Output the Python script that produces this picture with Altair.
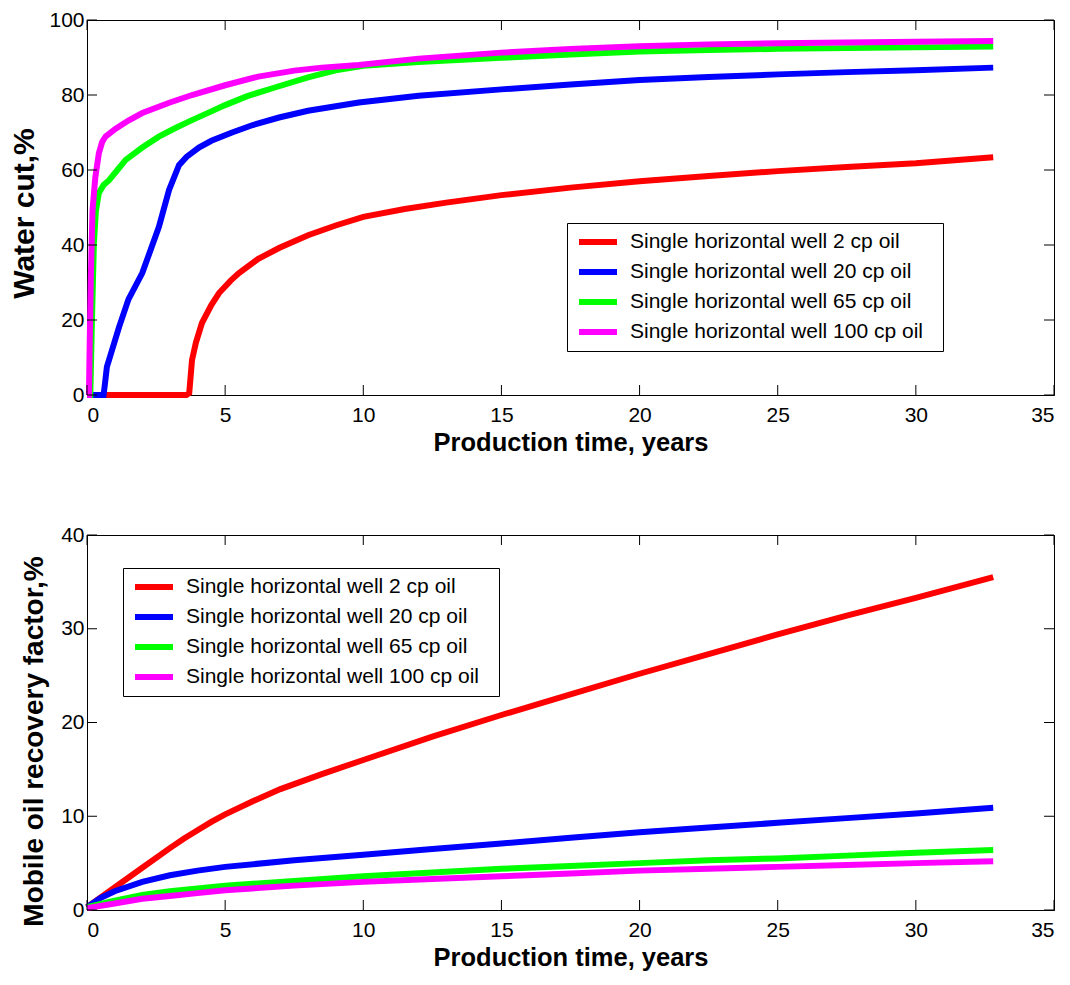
import altair as alt
import pandas as pd

series = [
    "Single horizontal well 2 cp oil",
    "Single horizontal well 20 cp oil",
    "Single horizontal well 65 cp oil",
    "Single horizontal well 100 cp oil",
]
colors = ["#ff0000", "#0000ff", "#00ff00", "#ff00ff"]

x_ticks = [0, 5, 10, 15, 20, 25, 30, 35]
wc_ticks = [0, 20, 40, 60, 80, 100]
rf_ticks = [0, 10, 20, 30, 40]

# ---- Water cut (%) ----
wc_t_2 = [0, 3.6, 3.7, 3.8, 3.94, 4.16, 4.5, 4.78, 5.2, 5.5, 6.2, 6.95, 8.0, 9.0, 10.0, 11.5, 13, 15, 17.5, 20, 22.5, 25, 27.5, 30, 32.8]
wc_v_2 = [0, 0, 0.5, 9.3, 13.9, 19.2, 24, 27.2, 30.5, 32.5, 36.3, 39.2, 42.6, 45.2, 47.5, 49.6, 51.3, 53.3, 55.3, 57, 58.4, 59.7, 60.8, 61.8, 63.4]

wc_t_20 = [0, 0.6, 0.65, 0.72, 1.16, 1.5, 2.0, 2.6, 2.97, 3.33, 3.6, 4.05, 4.5, 5.25, 6.0, 6.95, 8.0, 9.84, 12, 15, 17.5, 20, 22.5, 25, 27.5, 30, 32.8]
wc_v_20 = [0, 0, 3, 7.5, 18.1, 25.5, 32.5, 44.8, 54.7, 61.3, 63.5, 66, 67.8, 70, 72, 74, 75.8, 78, 79.8, 81.5, 82.8, 84, 84.8, 85.5, 86.1, 86.6, 87.3]

wc_t_65 = [0, 0.12, 0.18, 0.25, 0.32, 0.43, 0.6, 0.8, 1.1, 1.4, 2.0, 2.6, 3.2, 3.8, 4.4, 5.0, 5.8, 6.8, 8.0, 9.0, 10, 12, 15, 17.5, 20, 22.5, 25, 27.5, 30, 32.8]
wc_v_65 = [0, 0, 20, 40.5, 49, 53.9, 56, 57.3, 60, 62.7, 66, 68.9, 71.2, 73.3, 75.3, 77.3, 79.7, 82, 84.7, 86.6, 87.8, 88.8, 89.9, 90.8, 91.6, 92.0, 92.3, 92.5, 92.7, 92.9]

wc_t_100 = [0, 0.07, 0.1, 0.14, 0.2, 0.3, 0.43, 0.55, 0.68, 1.05, 1.5, 2.0, 3.0, 3.8, 5.0, 6.2, 7.5, 8.5, 9.84, 12, 15, 17.5, 20, 22.5, 25, 27.5, 30, 32.8]
wc_v_100 = [0, 0, 15, 31.6, 49.3, 58, 64.5, 67.5, 69, 71.1, 73.2, 75.2, 78, 80, 82.6, 84.9, 86.5, 87.3, 88, 89.7, 91.3, 92.3, 93.0, 93.5, 93.8, 94.0, 94.2, 94.4]

# ---- Mobile oil recovery factor (%) ----
rf_t_2 = [0, 1, 2, 3, 3.5, 4, 4.5, 5, 6, 7, 8.5, 10, 12.5, 15, 17.5, 20, 22.5, 25, 27.5, 30, 32.8]
rf_v_2 = [0.3, 2.4, 4.5, 6.6, 7.6, 8.5, 9.4, 10.2, 11.6, 12.9, 14.5, 16.0, 18.5, 20.8, 23.0, 25.2, 27.3, 29.4, 31.4, 33.3, 35.5]

rf_t_20 = [0, 0.5, 1, 2, 3, 4, 5, 7.5, 10, 12.5, 15, 17.5, 20, 22.5, 25, 27.5, 30, 32.8]
rf_v_20 = [0.3, 1.3, 2.0, 3.0, 3.7, 4.2, 4.6, 5.3, 5.9, 6.5, 7.1, 7.7, 8.3, 8.8, 9.3, 9.8, 10.3, 10.9]

rf_t_65 = [0, 1, 2, 3, 4, 5, 7.5, 10, 12.5, 15, 17.5, 20, 22.5, 25, 27.5, 30, 32.8]
rf_v_65 = [0.3, 1.0, 1.6, 2.0, 2.3, 2.6, 3.1, 3.6, 4.0, 4.4, 4.7, 5.0, 5.3, 5.5, 5.8, 6.1, 6.4]

rf_t_100 = [0, 1, 2, 3, 4, 5, 7.5, 10, 12.5, 15, 17.5, 20, 22.5, 25, 27.5, 30, 32.8]
rf_v_100 = [0.2, 0.7, 1.2, 1.5, 1.8, 2.1, 2.6, 3.0, 3.3, 3.6, 3.9, 4.2, 4.4, 4.6, 4.8, 5.0, 5.2]


def frame(ts, vs):
    rows = []
    for k, (t, v) in enumerate(zip(ts, vs)):
        for a, b in zip(t, v):
            rows.append({"s": series[k], "k": k, "t": a, "v": b})
    return pd.DataFrame(rows)


wc_df = frame([wc_t_2, wc_t_20, wc_t_65, wc_t_100], [wc_v_2, wc_v_20, wc_v_65, wc_v_100])
rf_df = frame([rf_t_2, rf_t_20, rf_t_65, rf_t_100], [rf_v_2, rf_v_20, rf_v_65, rf_v_100])

W, H = 967, 375
TICK = 10
PAD = "\u2800"


def panel(df, yticks, ytitle, ytitle_size, ytitle_x, ytitle_y, lx, ly):
    xenc = alt.X(
        "t:Q",
        scale=alt.Scale(domain=[0, 35], nice=False, zero=False),
        axis=alt.Axis(
            values=x_ticks, title="Production time, years", ticks=False, grid=False,
            labelPadding=9, titleY=55, titleBaseline="alphabetic",
            titleFontSize=25.5,
        ),
    )
    yenc = alt.Y(
        "v:Q",
        scale=alt.Scale(domain=[yticks[0], yticks[-1]], nice=False),
        axis=alt.Axis(
            values=yticks, title=ytitle, ticks=False, grid=False, labelPadding=3,
            titleX=ytitle_x, titleY=ytitle_y, titleBaseline="alphabetic", titleAlign="center",
            titleAngle=270, titleFontSize=ytitle_size,
        ),
    )
    lines = alt.Chart(df).mark_line(strokeWidth=6, strokeCap="butt").encode(
        x=xenc,
        y=yenc,
        color=alt.Color(
            "s:N",
            scale=alt.Scale(domain=series, range=colors),
            legend=alt.Legend(
                orient="none", legendX=lx, legendY=ly, title=None,
                symbolType="stroke", symbolSize=1444, symbolStrokeWidth=6, clipHeight=30,
                rowPadding=0,
                labelFont="Liberation Sans", labelFontSize=21, labelColor="black",
                labelOffset=10, padding=4, symbolOffset=5, labelLimit=0,
                strokeColor="black", fillColor="white",
                labelExpr="datum.label + '" + PAD + "'",
            ),
        ),
        order=alt.Order("t:Q"),
    )
    xt = pd.DataFrame({"t": x_ticks})
    yt = pd.DataFrame({"v": yticks})
    bt = alt.Chart(xt).mark_rule(color="black", strokeWidth=1).encode(
        x=xenc, y=alt.value(H - TICK), y2=alt.value(H))
    tt = alt.Chart(xt).mark_rule(color="black", strokeWidth=1).encode(
        x=xenc, y=alt.value(0), y2=alt.value(TICK))
    lt = alt.Chart(yt).mark_rule(color="black", strokeWidth=1).encode(
        y=yenc, x=alt.value(0), x2=alt.value(TICK))
    rt = alt.Chart(yt).mark_rule(color="black", strokeWidth=1).encode(
        y=yenc, x=alt.value(W - TICK), x2=alt.value(W))
    return alt.layer(lines, bt, tt, lt, rt).properties(width=W, height=H)


top = panel(wc_df, wc_ticks, "Water cut,%", 30, -54, 193, 480, 203)
bottom = panel(rf_df, rf_ticks, "Mobile oil recovery factor,%", 28, -45, 206, 36, 33)

chart = (
    alt.vconcat(top, bottom, spacing=140, bounds="flush")
    .resolve_scale(color="independent")
    .resolve_legend(color="independent")
    .properties(padding={"left": 0, "top": 0, "right": 0, "bottom": 0}, background="white")
    .configure_view(stroke="black", strokeWidth=1)
    .configure_axis(
        domainColor="black", labelFont="Liberation Sans", labelFontSize=21, labelColor="black",
        titleFont="Liberation Sans", titleFontWeight="bold", titleColor="black",
    )
)

chart.save("out.html", embed_options={"renderer": "svg", "actions": False})
